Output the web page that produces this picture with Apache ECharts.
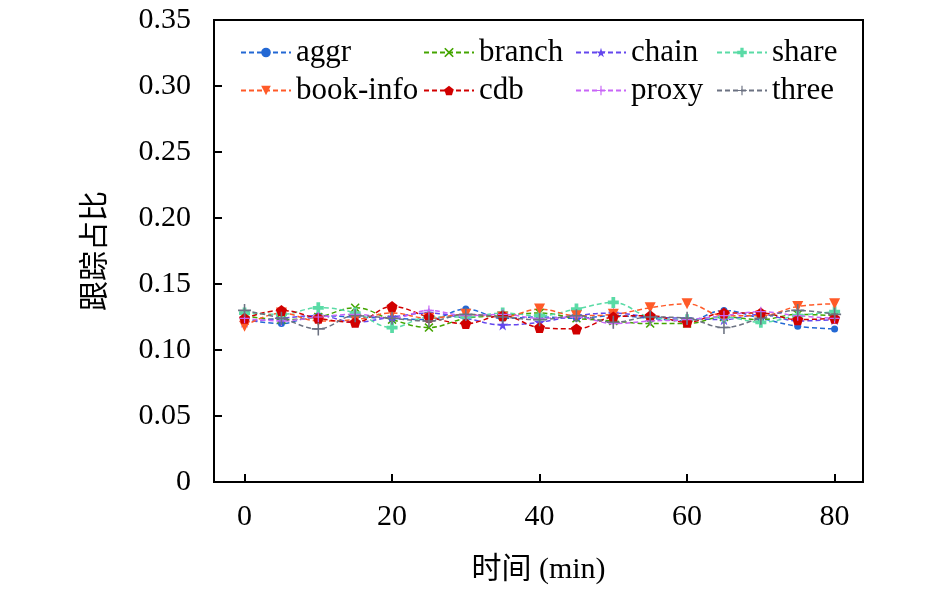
<!DOCTYPE html>
<html>
<head>
<meta charset="utf-8">
<script src="https://cdn.jsdelivr.net/npm/echarts@6/dist/echarts.min.js"></script>
<style>html,body{margin:0;padding:0;background:#fff}#c{width:945px;height:592px}</style>
</head>
<body>
<div id="c"></div>
<script>
const times = [0,5,10,15,20,25,30,35,40,45,50,55,60,65,70,75,80];
const xTicks = [0,20,40,60,80];
const aggr     = [0.123,0.120,0.126,0.125,0.124,0.123,0.131,0.124,0.125,0.124,0.126,0.124,0.122,0.130,0.124,0.118,0.116];
const branch   = [0.126,0.123,0.125,0.132,0.123,0.117,0.124,0.126,0.128,0.124,0.122,0.120,0.120,0.125,0.123,0.127,0.126];
const chain    = [0.121,0.124,0.126,0.121,0.125,0.128,0.124,0.119,0.121,0.126,0.128,0.125,0.124,0.123,0.127,0.122,0.123];
const share    = [0.128,0.127,0.132,0.128,0.117,0.125,0.125,0.128,0.126,0.131,0.136,0.125,0.123,0.125,0.121,0.126,0.129];
const bookInfo = [0.118,0.128,0.122,0.123,0.128,0.124,0.127,0.125,0.131,0.126,0.127,0.132,0.135,0.126,0.126,0.133,0.135];
const cdb      = [0.124,0.130,0.124,0.121,0.133,0.125,0.120,0.126,0.117,0.116,0.125,0.126,0.121,0.128,0.128,0.123,0.124];
const proxy    = [0.124,0.122,0.125,0.127,0.124,0.130,0.126,0.127,0.124,0.125,0.120,0.122,0.123,0.126,0.129,0.126,0.124];
const three    = [0.130,0.124,0.116,0.126,0.124,0.122,0.127,0.125,0.123,0.126,0.121,0.125,0.124,0.117,0.124,0.130,0.127];

const serif = '"Liberation Serif", "Times New Roman", "Noto Sans CJK SC", serif';
const SYM = {
  star: 'path://M50,0 L61,35 L98,35 L68,57 L79,91 L50,70 L21,91 L32,57 L2,35 L39,35 Z',
  pent: 'path://M50,0 L98,35 L79,91 L21,91 L2,35 Z',
  x: 'path://M0,12 L12,0 L50,38 L88,0 L100,12 L62,50 L100,88 L88,100 L50,62 L12,100 L0,88 L38,50 Z',
  fatPlus: 'path://M33,0 H67 V33 H100 V67 H67 V100 H33 V67 H0 V33 H33 Z',
  thinPlus: 'path://M44,0 H56 V44 H100 V56 H56 V100 H44 V56 H0 V44 H44 Z'
};
function mk(name, data, color, symbol, size, rotate) {
  return {
    name: name, type: 'line', smooth: 0.4,
    data: times.map((t, i) => [t, data[i]]),
    symbol: symbol, symbolSize: size, symbolRotate: rotate || 0,
    itemStyle: { color: color },
    lineStyle: { color: color, width: 1.5, type: [5, 3] },
    emphasis: { disabled: true }, animation: false
  };
}
const series = [
  mk('aggr', aggr, '#2368d4', 'circle', 7),
  mk('branch', branch, '#44a500', SYM.x, 9),
  mk('chain', chain, '#6447ee', SYM.star, 11),
  mk('share', share, '#5adba6', SYM.fatPlus, 11),
  mk('book-info', bookInfo, '#ff5a28', 'triangle', 11, 180),
  mk('cdb', cdb, '#d10000', SYM.pent, 11),
  mk('proxy', proxy, '#c865f7', SYM.thinPlus, 10),
  mk('three', three, '#6c7282', SYM.thinPlus, 13)
];
const legendBase = {
  orient: 'vertical', top: 37, padding: 0, itemGap: 7,
  itemWidth: 50, itemHeight: 12,
  textStyle: { fontFamily: serif, fontSize: 31, color: '#000', lineHeight: 31 },
  selectedMode: false
};
const option = {
  backgroundColor: '#fff',
  animation: false,
  grid: { left: 214, right: 82, top: 20, bottom: 110, show: true, borderColor: '#000', borderWidth: 2, backgroundColor: 'transparent' },
  legend: [
    Object.assign({}, legendBase, { left: 240, data: ['aggr', 'book-info'] }),
    Object.assign({}, legendBase, { left: 423, data: ['branch', 'cdb'] }),
    Object.assign({}, legendBase, { left: 575, data: ['chain', 'proxy'] }),
    Object.assign({}, legendBase, { left: 716, data: ['share', 'three'] })
  ],
  xAxis: {
    type: 'value', min: -4.14, max: 83.85,
    name: '时间 (min)', nameLocation: 'middle', nameGap: 73,
    nameTextStyle: { fontFamily: serif, fontSize: 30, color: '#000' },
    axisLine: { show: true, onZero: false, lineStyle: { color: '#000', width: 2 } },
    axisTick: { show: true, inside: true, length: 8, customValues: xTicks, lineStyle: { color: '#000', width: 2 } },
    axisLabel: { customValues: xTicks, fontFamily: serif, fontSize: 30, color: '#000', margin: 20 },
    splitLine: { show: false }
  },
  yAxis: {
    type: 'value', min: 0, max: 0.35, interval: 0.05,
    name: '跟踪占比', nameLocation: 'middle', nameGap: 103, nameRotate: 90,
    nameTextStyle: { fontFamily: serif, fontSize: 30, color: '#000' },
    axisLine: { show: true, onZero: false, lineStyle: { color: '#000', width: 2 } },
    axisTick: { show: true, inside: true, length: 8, lineStyle: { color: '#000', width: 2 } },
    axisLabel: { fontFamily: serif, fontSize: 30, color: '#000', margin: 23,
      formatter: v => v === 0 ? '0' : v.toFixed(2) },
    splitLine: { show: false }
  },
  series: series
};
const chart = echarts.init(document.getElementById('c'), null, { renderer: 'canvas' });
chart.setOption(option);
</script>
</body>
</html>
